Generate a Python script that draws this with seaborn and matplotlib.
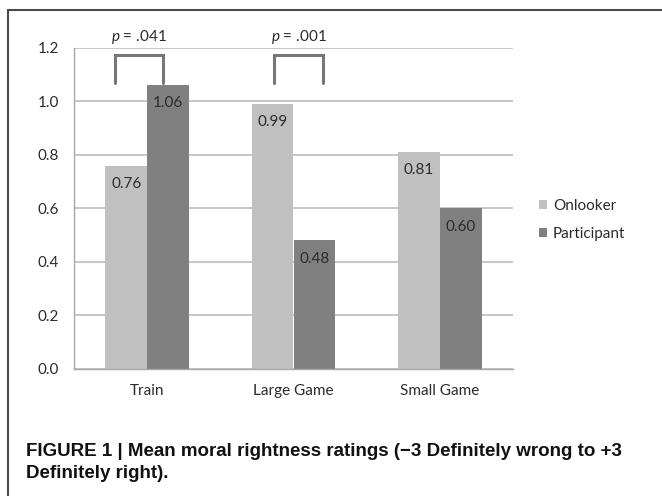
import matplotlib
matplotlib.use('Agg')
import matplotlib.pyplot as plt
import numpy as np
import pandas as pd
import seaborn as sns
from matplotlib.lines import Line2D
from matplotlib.ticker import FormatStrFormatter, FixedLocator

scenarios = ['Train', 'Large Game', 'Small Game']
roles = ['Onlooker', 'Participant']
onlooker = [0.76, 0.99, 0.81]
participant = [1.06, 0.48, 0.60]
y_ticks = [0.0, 0.2, 0.4, 0.6, 0.8, 1.0, 1.2]

# significance brackets: (left x, right x) in category units, p text
bracket_x = [(-0.22, 0.108), (0.867, 1.202)]
bracket_y = (1.068, 1.173)
p_labels = ['.041', '.001']

caption_1 = 'FIGURE 1 | Mean moral rightness ratings (\u22123 Definitely wrong to +3'
caption_2 = 'Definitely right).'

sns.set_style('white')
plt.rcParams['font.family'] = ['Lato', 'DejaVu Sans']
plt.rcParams['mathtext.fontset'] = 'custom'
plt.rcParams['mathtext.it'] = 'Lato:italic'
plt.rcParams['mathtext.rm'] = 'Lato'

df = pd.DataFrame({
    'scenario': scenarios * 2,
    'role': [roles[0]] * 3 + [roles[1]] * 3,
    'rating': onlooker + participant,
})

fig = plt.figure(figsize=(6.62, 4.96), dpi=100)
ax = fig.add_axes([74 / 662, 127 / 496, 439 / 662, 321.3 / 496])

colors = ['#C0C0C0', '#808080']
sns.barplot(data=df, x='scenario', y='rating', hue='role', palette=colors,
            width=0.573, gap=0, saturation=1, linewidth=0, ax=ax)

text_col = '#2b2b2b'
ax.set_xlim(-0.5, 2.5)
ax.set_ylim(0, 1.2)
ax.yaxis.set_major_locator(FixedLocator(y_ticks))
ax.yaxis.set_major_formatter(FormatStrFormatter('%.1f'))
ax.yaxis.grid(True, color='#BDBDBD', lw=1.2)
ax.set_axisbelow(True)
ax.set_xlabel('')
ax.set_ylabel('')

for s in ['top', 'right']:
    ax.spines[s].set_visible(False)
for s in ['left', 'bottom']:
    ax.spines[s].set_color('#A8A8A8')
    ax.spines[s].set_linewidth(1.0)

ax.tick_params(axis='y', length=3.6, width=1, color='#A8A8A8', pad=7,
               labelsize=11, labelcolor=text_col)
ax.tick_params(axis='x', which='major', length=0, pad=11, labelsize=11,
               labelcolor=text_col)
ax.xaxis.set_minor_locator(FixedLocator([-0.5, 0.5, 1.5, 2.5]))
ax.tick_params(axis='x', which='minor', length=3.6, width=1, color='#A8A8A8')

# value labels inside the top of each bar
for cont, vals in zip(ax.containers, [onlooker, participant]):
    for bar, v in zip(cont, vals):
        ax.text(bar.get_x() + bar.get_width() / 2, v - 0.068, f'{v:.2f}',
                ha='center', va='center', fontsize=11, color=text_col)

# significance brackets
for (x0, x1), p in zip(bracket_x, p_labels):
    ax.plot([x0, x0, x1, x1], [bracket_y[0], bracket_y[1], bracket_y[1], bracket_y[0]],
            color='#777777', lw=2.2, clip_on=False, solid_joinstyle='miter')
    ax.text((x0 + x1) / 2, 1.24, r'$p$ = ' + p, ha='center', va='center',
            fontsize=11, color=text_col, clip_on=False)

handles, labels = ax.get_legend_handles_labels()
ax.legend(handles, labels, loc='center left',
          bbox_to_anchor=(539 / 662, 1 - 220 / 496), bbox_transform=fig.transFigure,
          frameon=False, fontsize=11, handlelength=0.55, handleheight=0.55,
          handletextpad=0.35, labelspacing=0.95, borderpad=0, borderaxespad=0,
          labelcolor=text_col)

# figure frame (left and top edges)
fig.add_artist(Line2D([8 / 662, 8 / 662], [0, 1 - 10 / 496], color='#4a4a4a', lw=1.5))
fig.add_artist(Line2D([8 / 662, 1], [1 - 10 / 496, 1 - 10 / 496], color='#4a4a4a', lw=1.5))

cap_font = ['Liberation Sans', 'DejaVu Sans']
fig.text(26 / 662, 1 - 452 / 496, caption_1, family=cap_font, weight='bold',
         fontsize=13.5, va='center', ha='left', color='#111111')
fig.text(26 / 662, 1 - 474 / 496, caption_2, family=cap_font, weight='bold',
         fontsize=13.5, va='center', ha='left', color='#111111')

fig.savefig('out.png', dpi=100)
plt.close(fig)
